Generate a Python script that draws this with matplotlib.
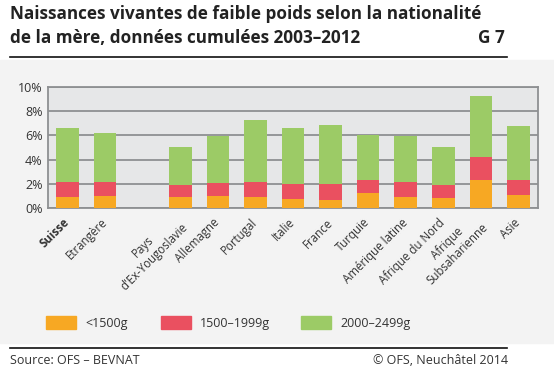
import numpy as np
import matplotlib.pyplot as plt
from matplotlib.patches import Rectangle

categories = ["Suisse", "Etrangère", "Pays\nd'Ex-Yougoslavie", "Allemagne", "Portugal",
              "Italie", "France", "Turquie", "Amérique latine", "Afrique du Nord",
              "Afrique\nSubsaharienne", "Asie"]
# cumulative tops (%)
lt1500 = [0.88, 0.96, 0.88, 0.96, 0.88, 0.77, 0.68, 1.23, 0.90, 0.82, 2.30, 1.04]
top1999 = [2.14, 2.14, 1.86, 2.05, 2.16, 2.00, 2.00, 2.33, 2.14, 1.92, 4.22, 2.30]
top2499 = [6.58, 6.16, 5.01, 5.95, 7.26, 6.60, 6.88, 6.03, 5.95, 5.01, 9.23, 6.77]
series_labels = ["<1500g", "1500–1999g", "2000–2499g"]
yticks = [0, 2, 4, 6, 8, 10]

plt.rcParams['font.family'] = ['Open Sans', 'DejaVu Sans']

orange, red, green = "#f7a823", "#ea5060", "#9ccb66"
grid_c = "#8e9092"

a = np.array(lt1500)
b = np.array(top1999) - a
c = np.array(top2499) - np.array(top1999)
# gap of one slot between "Etrangère" and the countries
x = np.array([i if i < 2 else i + 1 for i in range(len(categories))])

fig = plt.figure(figsize=(5.54, 3.75), dpi=100)
fig.patches.append(Rectangle((0, 0.085), 1, 0.755, transform=fig.transFigure,
                             color="#f3f3f3", zorder=-10))

ax = fig.add_axes([48 / 554, 167 / 375, 490 / 554, 121 / 375])
ax.set_facecolor("#e6e7e8")
w = 0.6
ax.bar(x, a, w, color=orange, zorder=3, label=series_labels[0])
ax.bar(x, b, w, bottom=a, color=red, zorder=3, label=series_labels[1])
ax.bar(x, c, w, bottom=a + b, color=green, zorder=3, label=series_labels[2])

ax.set_xlim(-0.52, 12.52)
ax.set_ylim(0, 10)
ax.set_yticks(yticks)
ax.set_yticklabels([f"{t}%" for t in yticks], fontsize=9, color="#333333")
ax.yaxis.grid(True, color=grid_c, lw=1.3, zorder=1)
for s in ax.spines.values():
    s.set_color(grid_c)
    s.set_linewidth(1.3)
ax.tick_params(axis="y", length=0, pad=4)
ax.tick_params(axis="x", length=0, pad=9)
ax.set_xticks(x)
labels = ax.set_xticklabels(categories, rotation=45, ha="right", va="center",
                            rotation_mode="anchor", fontsize=8.3, color="#333333",
                            multialignment="center")
labels[0].set_fontweight("bold")

# title
fig.text(10 / 554, 1 - 14 / 375, "Naissances vivantes de faible poids selon la nationalité",
         fontsize=12.3, fontweight="bold", color="#222222", va="center")
fig.text(10 / 554, 1 - 38 / 375, "de la mère, données cumulées 2003–2012",
         fontsize=12.3, fontweight="bold", color="#222222", va="center")
fig.text(505 / 554, 1 - 38 / 375, "G 7", fontsize=12.3, fontweight="bold",
         color="#222222", va="center", ha="right")
fig.add_artist(plt.Line2D([10 / 554, 507 / 554], [1 - 57 / 375] * 2, color="#111111", lw=1.2))

# legend
handles, lbls = ax.get_legend_handles_labels()
leg_x = [46, 161, 301]
for h, l, lx in zip(handles, lbls, leg_x):
    fig.add_artist(Rectangle((lx / 554, 1 - 329 / 375), 30 / 554, 13 / 375,
                             transform=fig.transFigure, color=h.patches[0].get_facecolor()))
    fig.text((lx + 39) / 554, 1 - 323 / 375, l, fontsize=9, color="#333333", va="center")

# footer
fig.add_artist(plt.Line2D([10 / 554, 507 / 554], [1 - 348 / 375] * 2, color="#111111", lw=1.2))
fig.text(10 / 554, 1 - 361 / 375, "Source: OFS – BEVNAT", fontsize=9, color="#333333", va="center")
fig.text(508 / 554, 1 - 361 / 375, "© OFS, Neuchâtel 2014", fontsize=9, color="#333333",
         va="center", ha="right")

fig.savefig("out.png", dpi=100)
